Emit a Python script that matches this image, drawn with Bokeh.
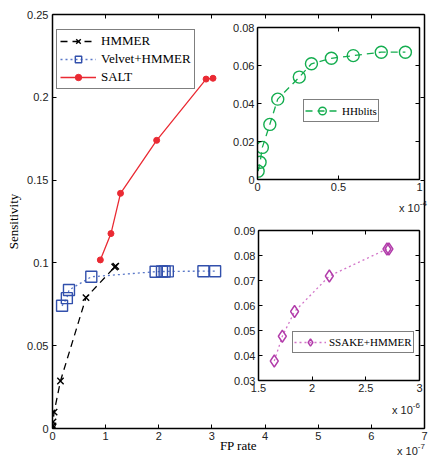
from bokeh.plotting import figure
from bokeh.models import LinearAxis, FixedTicker, NumeralTickFormatter, Range1d, Div
from bokeh.embed import file_html
from bokeh.resources import INLINE

# ---------------- data (FP rate in displayed units) ----------------
# main panel, FP rate x 1e-7
hmmer_fp = [0.0, 0.01, 0.01, 0.03, 0.15, 0.63, 1.17, 1.19]
hmmer_sens = [0.0, 0.0016, 0.004, 0.0099, 0.0287, 0.079, 0.0975, 0.098]

velvet_fp = [0.18, 0.27, 0.31, 0.73, 1.94, 2.06, 2.11, 2.17, 2.84, 3.06]
velvet_sens = [0.0741, 0.0787, 0.0836, 0.0916, 0.0947, 0.0948, 0.0948, 0.0949, 0.0950, 0.0950]

salt_fp = [0.90, 1.10, 1.28, 1.96, 2.89, 3.02]
salt_sens = [0.1018, 0.1177, 0.142, 0.174, 0.211, 0.2115]

# inset 1, FP rate x 1e-4
hhblits_fp = [0.004, 0.016, 0.03, 0.076, 0.125, 0.258, 0.333, 0.456, 0.591, 0.764, 0.913]
hhblits_sens = [0.0044, 0.0091, 0.0169, 0.029, 0.0423, 0.0539, 0.0609, 0.0638, 0.0652, 0.067, 0.067]

# inset 2, FP rate x 1e-6
ssake_fp = [1.647, 1.722, 1.836, 2.16, 2.697, 2.715]
ssake_sens = [0.0378, 0.0477, 0.0576, 0.0718, 0.0826, 0.0826]

main_xticks = [0, 1, 2, 3, 4, 5, 6, 7]
main_yticks = [0, 0.05, 0.1, 0.15, 0.2, 0.25]
in1_xticks = [0, 0.5, 1]
in1_yticks = [0, 0.02, 0.04, 0.06, 0.08]
in2_xticks = [1.5, 2, 2.5, 3]
in2_yticks = [0.03, 0.04, 0.05, 0.06, 0.07, 0.08, 0.09]

SANS = "Liberation Sans"
SERIF = "Liberation Serif"
TICK_COLOR = "#222222"


def style_axis(ax, ticks, fmt, show_labels=True):
    ax.ticker = FixedTicker(ticks=ticks)
    ax.formatter = NumeralTickFormatter(format=fmt)
    ax.axis_line_color = "black"
    ax.axis_line_width = 1.5
    ax.major_tick_in = 4
    ax.major_tick_out = 0
    ax.major_tick_line_width = 1
    ax.major_tick_line_color = "black"
    ax.minor_tick_line_color = None
    ax.major_label_text_font = SANS
    if show_labels:
        ax.major_label_text_color = TICK_COLOR
        ax.major_label_text_font_size = "11px"
        ax.major_label_standoff = 3
    else:
        ax.major_label_text_color = None
        ax.major_label_text_font_size = "1px"
        ax.major_label_standoff = 0


def mirror_axes(p, xticks, yticks):
    top = LinearAxis()
    style_axis(top, xticks, "0", show_labels=False)
    p.add_layout(top, "above")
    right = LinearAxis()
    style_axis(right, yticks, "0", show_labels=False)
    p.add_layout(right, "right")


def exponent_div(exp_text, left, top):
    html = ('<span style="font-family:\'Liberation Sans\';font-size:11px;color:#222;'
            'white-space:nowrap;line-height:13px">x 10<sup style="font-size:8px;'
            'vertical-align:6px;line-height:8px">' + exp_text + '</sup></span>')
    return Div(text=html, width=44, height=16, margin=0,
               styles={"position": "absolute", "left": f"{left}px", "top": f"{top}px"})


# ---------------- main figure ----------------
p = figure(frame_width=372, frame_height=414, output_backend="svg", toolbar_location=None,
           x_range=Range1d(0, 7), y_range=Range1d(0, 0.25),
           min_border_left=44, min_border_right=8, min_border_top=6, min_border_bottom=31,
           styles={"position": "absolute", "left": "3px", "top": "8px"})
p.outline_line_color = None
p.grid.visible = False
p.background_fill_color = "white"

xb = p.below[0]
yl = p.left[0]
style_axis(xb, main_xticks, "0")
style_axis(yl, main_yticks, "0.[00]")
yl.major_label_standoff = 4
xb.major_label_standoff = 3
mirror_axes(p, main_xticks, main_yticks)

xb.axis_label = "FP rate"
yl.axis_label = "Sensitivity"
for ax in (xb, yl):
    ax.axis_label_text_font = SERIF
    ax.axis_label_text_font_size = "13px"
    ax.axis_label_text_font_style = "normal"
    ax.axis_label_text_color = "black"
xb.axis_label_standoff = -5
yl.axis_label_standoff = 3

p.line(hmmer_fp, hmmer_sens, line_color="black", line_width=1.3, line_dash="7 5",
       legend_label="HMMER")
p.scatter(hmmer_fp, hmmer_sens, marker="x", size=9, line_color="black", line_width=1.4,
          legend_label="HMMER")

p.line(velvet_fp, velvet_sens, line_color="#5a78c8", line_width=1.3, line_dash="2 3",
       legend_label="Velvet+HMMER")
p.scatter(velvet_fp, velvet_sens, marker="square", size=11, fill_color=None,
          line_color="#3250ac", line_width=1.4, legend_label="Velvet+HMMER")

p.line(salt_fp, salt_sens, line_color="#ea2a33", line_width=1.3, legend_label="SALT")
p.scatter(salt_fp, salt_sens, marker="circle", size=6, fill_color="#ea2a33",
          line_color="#ea2a33", legend_label="SALT")

lg = p.legend[0]
lg.location = (4, 339)
lg.margin = 0
lg.padding = 3
lg.spacing = 2
lg.glyph_width = 36
lg.glyph_height = 16
lg.label_height = 16
lg.label_standoff = 5
lg.label_text_font = SERIF
lg.label_text_font_size = "13px"
lg.label_text_color = "black"
lg.border_line_color = "black"
lg.border_line_width = 1.5
lg.background_fill_color = "white"
lg.background_fill_alpha = 1

# ---------------- inset 1: HHblits ----------------
i1 = figure(frame_width=162, frame_height=152, output_backend="svg", toolbar_location=None,
            x_range=Range1d(0, 1), y_range=Range1d(0, 0.08),
            min_border_left=32, min_border_right=4, min_border_top=4, min_border_bottom=20,
            styles={"position": "absolute", "left": "225px", "top": "23px"})
i1.outline_line_color = None
i1.grid.visible = False
i1.background_fill_color = "white"
i1.border_fill_color = None
style_axis(i1.below[0], in1_xticks, "0.[0]")
style_axis(i1.left[0], in1_yticks, "0.[00]")
mirror_axes(i1, in1_xticks, in1_yticks)

i1.line(hhblits_fp, hhblits_sens, line_color="#14ad4f", line_width=1.3, line_dash="7 5",
        legend_label="HHblits")
i1.scatter(hhblits_fp, hhblits_sens, marker="circle", size=12, fill_color=None,
           line_color="#14ad4f", line_width=1.4, legend_label="HHblits")
l1 = i1.legend[0]
l1.location = (46, 57)
l1.margin = 0
l1.padding = 1
l1.spacing = 0
l1.glyph_width = 34
l1.glyph_height = 19
l1.label_height = 19
l1.label_standoff = 3
l1.label_text_font = SERIF
l1.label_text_font_size = "11px"
l1.label_text_color = "black"
l1.border_line_color = "black"
l1.border_line_width = 1.5

# ---------------- inset 2: SSAKE+HMMER ----------------
i2 = figure(frame_width=161, frame_height=150, output_backend="svg", toolbar_location=None,
            x_range=Range1d(1.5, 3), y_range=Range1d(0.03, 0.09),
            min_border_left=32, min_border_right=4, min_border_top=4, min_border_bottom=20,
            styles={"position": "absolute", "left": "226px", "top": "226px"})
i2.outline_line_color = None
i2.grid.visible = False
i2.background_fill_color = "white"
i2.border_fill_color = None
style_axis(i2.below[0], in2_xticks, "0.[0]")
style_axis(i2.left[0], in2_yticks, "0.[00]")
mirror_axes(i2, in2_xticks, in2_yticks)

i2.line(ssake_fp, ssake_sens, line_color="#d274c8", line_width=1.3, line_dash="2 3",
        legend_label="SSAKE+HMMER")
i2.scatter(ssake_fp, ssake_sens, marker="diamond", size=12, fill_color=None,
           line_color="#b23caa", line_width=1.4, legend_label="SSAKE+HMMER")
l2 = i2.legend[0]
l2.location = (34, 27)
l2.margin = 0
l2.padding = 1
l2.spacing = 0
l2.glyph_width = 32
l2.glyph_height = 18
l2.label_height = 18
l2.label_standoff = 3
l2.label_text_font = SERIF
l2.label_text_font_size = "11px"
l2.label_text_color = "black"
l2.border_line_color = "black"
l2.border_line_width = 1.5

# exponent multipliers of the FP-rate axes
d_main = exponent_div("-7", 397, 443)
d_in1 = exponent_div("-4", 399, 200)
d_in2 = exponent_div("-6", 392, 402)

open("out.html", "w").write(file_html([p, i1, i2, d_main, d_in1, d_in2], INLINE))
